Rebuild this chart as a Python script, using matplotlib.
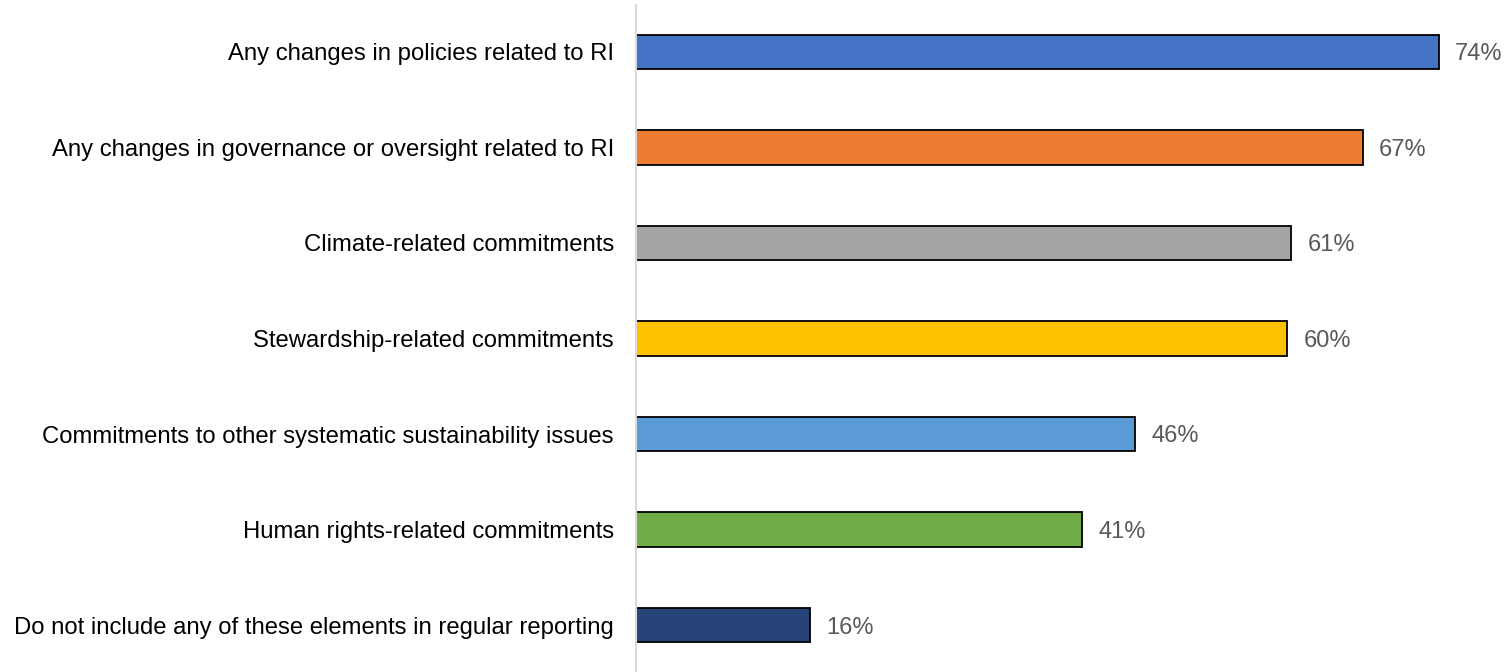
import matplotlib.pyplot as plt

categories = [
    "Any changes in policies related to RI",
    "Any changes in governance or oversight related to RI",
    "Climate-related commitments",
    "Stewardship-related commitments",
    "Commitments to other systematic sustainability issues",
    "Human rights-related commitments",
    "Do not include any of these elements in regular reporting",
]
values = [74, 67, 60.4, 60, 46, 41.1, 16]
labels = ["74%", "67%", "61%", "60%", "46%", "41%", "16%"]
colors = ["#4472C4", "#ED7D31", "#A5A5A5", "#FFC000", "#5B9BD5", "#70AD47", "#264478"]

plt.rcParams['font.family'] = ['Liberation Sans', 'DejaVu Sans']

fig = plt.figure(figsize=(15.04, 6.72), dpi=100)
ax = fig.add_axes([636 / 1504, 0, 1 - 636 / 1504, 667 / 672])

ypos = list(range(len(categories)))
ax.barh(ypos, values, height=0.36, color=colors, edgecolor='black', linewidth=1.3)

for y, v, lab in zip(ypos, values, labels):
    ax.text(v + 1.5, y + 0.025, lab, va='center', ha='left', fontsize=17, color='#595959')

ax.set_yticks(ypos)
ax.set_yticklabels(categories, fontsize=17.2, color='black')
ax.tick_params(axis='y', length=0, pad=16)
ax.set_ylim(6.49, -0.49)
ax.set_xlim(0, 80)
ax.set_xticks([])

for s in ['top', 'right', 'bottom']:
    ax.spines[s].set_visible(False)
ax.spines['left'].set_color('#D9D9D9')
ax.spines['left'].set_linewidth(1.5)

fig.savefig('out.png', dpi=100)
